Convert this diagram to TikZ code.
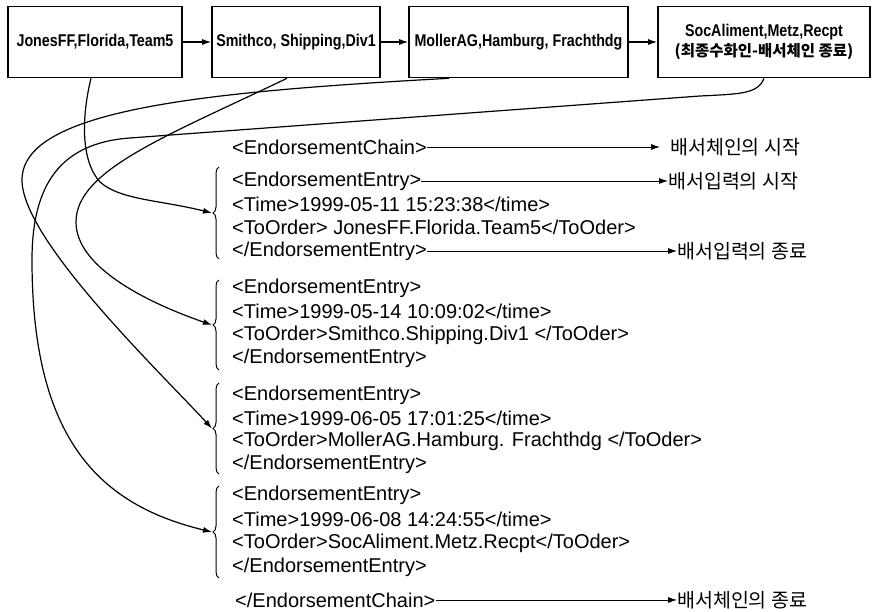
\documentclass[tikz,border=0pt]{standalone}
\usepackage{fontspec}
\setmainfont{Liberation Sans}
\newfontfamily\boxfont{Liberation Sans}[FakeStretch=0.84]
\newfontfamily\kr{Noto Sans CJK KR}
\usetikzlibrary{arrows.meta,decorations.pathreplacing}

\tikzset{
	party/.style={draw, line width=1.6pt, minimum height=71pt, inner sep=0pt, align=center, font=\boxfont\bfseries\fontsize{17}{19}\selectfont},
	xml/.style={anchor=west, inner sep=0pt, font=\fontsize{20}{24}\selectfont},
	note/.style={anchor=west, inner sep=0pt, font=\kr\fontsize{19.5}{23}\selectfont},
	entrybrace/.style={draw, line width=1pt, decorate, decoration={brace, amplitude=6pt}},
	endorse/.style={->, draw, line width=1.2pt},
}

\begin{document}
\begin{tikzpicture}[x=1pt, y=-1pt, >={Latex[length=9pt,width=6pt]}]
				\useasboundingbox (0,0) rectangle (873,612);

				% chain of endorsers
				\node[party, minimum width=174pt] (jones) at (95,42) {JonesFF,Florida,Team5};
				\node[party, minimum width=168pt] (smith) at (296,42) {Smithco, Shipping,Div1};
				\node[party, minimum width=219pt] (moller) at (518.5,42) {MollerAG,Hamburg, Frachthdg};
				\node[party, minimum width=212pt] (soc) at (764,42) {SocAliment,Metz,Recpt\\[1pt]{\kr\fontsize{15.5}{18}\selectfont (최종수화인-배서체인 종료)}};

				\path[->,draw,line width=1.2pt] (jones) -- (smith);
				\path[->,draw,line width=1.2pt] (smith) -- (moller);
				\path[->,draw,line width=1.2pt] (moller) -- (soc);

				% xml lines
				\node[xml] (chain) at (232,147) {<EndorsementChain>};

				\node[xml] (e1open) at (232,181) {<EndorsementEntry>};
				\node[xml] (e1time) at (232,204) {<Time>1999-05-11 15:23:38</time>};
				\node[xml] (e1to) at (232,227) {<ToOrder> JonesFF.Florida.Team5</ToOder>};
				\node[xml] (e1close) at (232,251) {</EndorsementEntry>};

				\node[xml] (e2open) at (232,288) {<EndorsementEntry>};
				\node[xml] (e2time) at (232,311) {<Time>1999-05-14 10:09:02</time>};
				\node[xml] (e2to) at (232,335) {<ToOrder>Smithco.Shipping.Div1 </ToOder>};
				\node[xml] (e2close) at (232,358) {</EndorsementEntry>};

				\node[xml] (e3open) at (232,395) {<EndorsementEntry>};
				\node[xml] (e3time) at (232,418) {<Time>1999-06-05 17:01:25</time>};
				\node[xml] (e3to) at (232,441) {<ToOrder>MollerAG.Hamburg. Frachthdg </ToOder>};
				\node[xml] (e3close) at (232,464) {</EndorsementEntry>};

				\node[xml] (e4open) at (232,495) {<EndorsementEntry>};
				\node[xml] (e4time) at (232,519) {<Time>1999-06-08 14:24:55</time>};
				\node[xml] (e4to) at (232,543) {<ToOrder>SocAliment.Metz.Recpt</ToOder>};
				\node[xml] (e4close) at (232,567) {</EndorsementEntry>};

				\node[xml] (chainend) at (235,600) {</EndorsementChain>};

				% notes on the right
				\node[note] (chainstart) at (670,147) {배서체인의 시작};
				\node[note] (entrystart) at (668,181) {배서입력의 시작};
				\node[note] (entryend) at (677,251) {배서입력의 종료};
				\node[note] (chainstop) at (677,600) {배서체인의 종료};

				\path[->,draw,line width=0.8pt,shorten >=10pt] (chain.east) -- (chain.east -| chainstart.west);
				\path[->,draw,line width=0.8pt] (e1open.east) -- (e1open.east -| entrystart.west);
				\path[->,draw,line width=0.8pt] (e1close.east) -- (e1close.east -| entryend.west);
				\path[->,draw,line width=0.8pt] (chainend.east) -- (chainend.east -| chainstop.west);

				% braces round the entries
				\draw[entrybrace] (219,259) -- (219,167);
				\draw[entrybrace] (219,370) -- (219,280);
				\draw[entrybrace] (219,474) -- (219,383);
				\draw[entrybrace] (219,578) -- (219,486);
				\coordinate (t1) at (212,213);
				\coordinate (t2) at (212,325);
				\coordinate (t3) at (212,428.5);
				\coordinate (t4) at (212,532);

				% endorser to entry
				\path[endorse] ([xshift=-4pt]jones.south) .. controls (82,115) and (80,160) .. (100,182) .. controls (120,200) and (160,200) .. (t1);
				\path[endorse] ([xshift=-9pt]smith.south) .. controls (167,136) and (76,170) .. (76,222) .. controls (76,265) and (140,300) .. (t2);
				\path[endorse] ([xshift=41pt]moller.south west) .. controls (200,92) and (22,110) .. (22,180) .. controls (22,240) and (161,373) .. (t3);
				\path[endorse] (soc.south) .. controls (758,94) and (740,94) .. (700,96) -- (130,138) .. controls (60,143) and (32,185) .. (32,260) .. controls (32,440) and (100,505) .. (t4);
			\end{tikzpicture}
\end{document}
